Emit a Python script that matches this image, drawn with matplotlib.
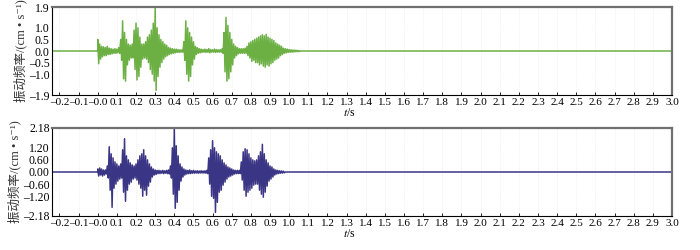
import numpy as np
import matplotlib
matplotlib.use('Agg')
from matplotlib import pyplot as plt

plt.rcParams['font.family'] = ['Liberation Serif', 'Noto Sans CJK SC', 'DejaVu Sans']
plt.rcParams['mathtext.fontset'] = 'stix'

# 包络峰值 (每 0.01 s 一组: 上峰, 下峰), 从 t=0.00 开始
t_step = 0.01

green_hi = [0.50, 0.30, 0.20, 0.18, 0.15, 0.20, 0.12, 0.10, 0.08, 0.10,
            0.08, 0.15, 0.50, 1.30, 0.80, 0.50, 0.30, 0.25, 0.30, 0.90,
            1.20, 1.00, 0.60, 0.30, 0.30, 0.40, 0.60, 0.70, 0.90, 1.20,
            1.88, 1.00, 0.70, 0.50, 0.40, 0.30, 0.25, 0.15, 0.12, 0.10,
            0.08, 0.08, 0.06, 0.05, 0.05, 0.40, 1.30, 1.00, 0.80, 0.60,
            0.40, 0.20, 0.15, 0.10, 0.08, 0.06, 0.08, 0.06, 0.10, 0.06,
            0.05, 0.08, 0.06, 0.05, 0.06, 0.10, 0.80, 1.45, 1.10, 0.80,
            0.50, 0.30, 0.20, 0.15, 0.10, 0.10, 0.10, 0.12, 0.20, 0.35,
            0.40, 0.45, 0.50, 0.55, 0.60, 0.65, 0.70, 0.65, 0.72, 0.60,
            0.55, 0.50, 0.45, 0.35, 0.30, 0.25, 0.20, 0.12, 0.10, 0.08,
            0.06, 0.05, 0.04, 0.04, 0.03, 0.02]
green_lo = [-0.55, -0.35, -0.25, -0.20, -0.20, -0.15, -0.15, -0.12, -0.10, -0.10,
            -0.08, -0.10, -0.40, -1.20, -1.30, -0.60, -0.40, -0.30, -0.30, -0.80,
            -1.25, -1.10, -0.70, -0.35, -0.30, -0.35, -0.50, -0.80, -1.00, -1.30,
            -1.70, -1.10, -0.70, -0.50, -0.35, -0.25, -0.20, -0.15, -0.12, -0.10,
            -0.08, -0.06, -0.06, -0.05, -0.05, -0.40, -1.00, -1.30, -1.10, -0.60,
            -0.35, -0.15, -0.10, -0.08, -0.06, -0.05, -0.06, -0.05, -0.08, -0.05,
            -0.05, -0.06, -0.05, -0.05, -0.05, -0.10, -0.90, -1.30, -1.20, -0.90,
            -0.60, -0.30, -0.20, -0.12, -0.10, -0.10, -0.10, -0.10, -0.20, -0.30,
            -0.45, -0.40, -0.50, -0.50, -0.60, -0.55, -0.65, -0.70, -0.60, -0.65,
            -0.55, -0.50, -0.40, -0.35, -0.30, -0.20, -0.15, -0.10, -0.08, -0.06,
            -0.05, -0.05, -0.04, -0.03, -0.03, -0.02]

blue_hi = [0.15, 0.20, 0.15, 0.10, 0.10, 0.30, 1.25, 0.90, 0.70, 0.50,
           0.40, 0.30, 0.40, 1.10, 1.65, 0.80, 0.60, 0.45, 0.35, 0.30,
           0.40, 0.60, 0.80, 0.90, 1.10, 0.80, 0.60, 0.40, 0.25, 0.15,
           0.10, 0.08, 0.08, 0.06, 0.08, 0.06, 0.08, 0.10, 0.30, 1.20,
           2.18, 1.30, 0.80, 0.40, 0.25, 0.15, 0.10, 0.08, 0.10, 0.06,
           0.08, 0.05, 0.06, 0.05, 0.06, 0.05, 0.06, 0.08, 0.70, 1.10,
           1.55, 1.20, 1.00, 0.90, 0.80, 0.60, 0.45, 0.35, 0.25, 0.20,
           0.15, 0.10, 0.08, 0.08, 0.08, 0.50, 1.00, 1.15, 1.10, 0.90,
           0.70, 0.60, 0.55, 0.60, 0.80, 1.00, 1.37, 0.90, 0.60, 0.45,
           0.30, 0.25, 0.15, 0.10, 0.08, 0.06, 0.05, 0.04]
blue_lo = [-0.20, -0.15, -0.20, -0.15, -0.10, -0.30, -0.90, -1.75, -0.80, -0.60,
           -0.45, -0.35, -0.30, -1.00, -1.45, -0.90, -0.60, -0.50, -0.35, -0.30,
           -0.40, -0.60, -0.80, -1.20, -0.90, -1.15, -0.70, -0.50, -0.25, -0.15,
           -0.12, -0.08, -0.08, -0.06, -0.08, -0.06, -0.08, -0.10, -0.30, -1.10,
           -1.80, -1.50, -0.90, -0.45, -0.25, -0.15, -0.10, -0.08, -0.08, -0.06,
           -0.06, -0.05, -0.06, -0.05, -0.05, -0.05, -0.06, -0.08, -0.60, -1.20,
           -1.30, -2.00, -1.50, -1.00, -0.90, -0.65, -0.50, -0.35, -0.25, -0.20,
           -0.15, -0.10, -0.08, -0.08, -0.08, -0.40, -0.90, -1.20, -1.00, -0.90,
           -0.80, -0.65, -0.60, -0.60, -0.90, -1.10, -1.25, -1.00, -0.70, -0.45,
           -0.35, -0.25, -0.15, -0.10, -0.08, -0.06, -0.05, -0.04]

x_ticks = [round(-0.2 + 0.1 * i, 1) for i in range(33)]
x_ticklabels = ['–0.2', '–0.1', '–0.0'] + ['%.1f' % v for v in x_ticks[3:]]

top_yticks = [-1.9, -1.0, -0.5, 0.0, 0.5, 1.0, 1.9]
top_ylabels = ['–1.9', '–1.0', '–0.5', '0.0', '0.5', '1.0', '1.9']
bot_yticks = [-2.18, -1.20, -0.60, 0.00, 0.60, 1.20, 2.18]
bot_ylabels = ['–2.18', '–1.20', '–0.60', '0.00', '0.60', '1.20', '2.18']

ylabel = '振动频率/(cm • s⁻¹)'


def wave(hi, lo):
    # 把上下峰交替连成折线
    t, y = [-0.24, 0.0], [0.0, 0.0]
    for i in range(len(hi)):
        t += [i * t_step, i * t_step + t_step / 2]
        y += [hi[i], lo[i]]
    t += [len(hi) * t_step, 3.0]
    y += [0.0, 0.0]
    return t, y


def style(ax, yticks, ylabels, lim):
    ax.set_xlim(-0.24, 3.0)
    ax.set_ylim(-lim, lim)
    ax.set_xticks(x_ticks)
    ax.set_xticklabels(x_ticklabels)
    ax.set_yticks(yticks)
    ax.set_yticklabels(ylabels)
    ax.tick_params(direction='in', length=2.5, width=0.6, labelsize=8.5, pad=2)
    ax.tick_params(axis='x', labelsize=8)
    ax.tick_params(axis='y', length=0, pad=1.5)
    for s in ['top', 'right']:
        ax.spines[s].set_color('#707070')
        ax.spines[s].set_linewidth(1.6)
    for s in ['left', 'bottom']:
        ax.spines[s].set_color('black')
        ax.spines[s].set_linewidth(0.8)
    ax.grid(axis='x', color='#e8e8e8', linestyle=':', linewidth=0.5)
    ax.set_xlabel('$t$/s', fontsize=8.5, labelpad=0, x=0.48)
    ax.set_ylabel(ylabel, fontsize=9, labelpad=1, color='#333333')


fig = plt.figure(figsize=(7, 2.5), dpi=100)
ax1 = fig.add_axes([0.074, 0.62, 0.886, 0.352])
ax2 = fig.add_axes([0.074, 0.136, 0.886, 0.352])

t1, y1 = wave(green_hi, green_lo)
ax1.plot(t1, y1, color='#6cb044', linewidth=1.1)
style(ax1, top_yticks, top_ylabels, 1.9)

t2, y2 = wave(blue_hi, blue_lo)
ax2.plot(t2, y2, color='#3b3585', linewidth=1.1)
style(ax2, bot_yticks, bot_ylabels, 2.18)

plt.savefig('out.png', dpi=100)
